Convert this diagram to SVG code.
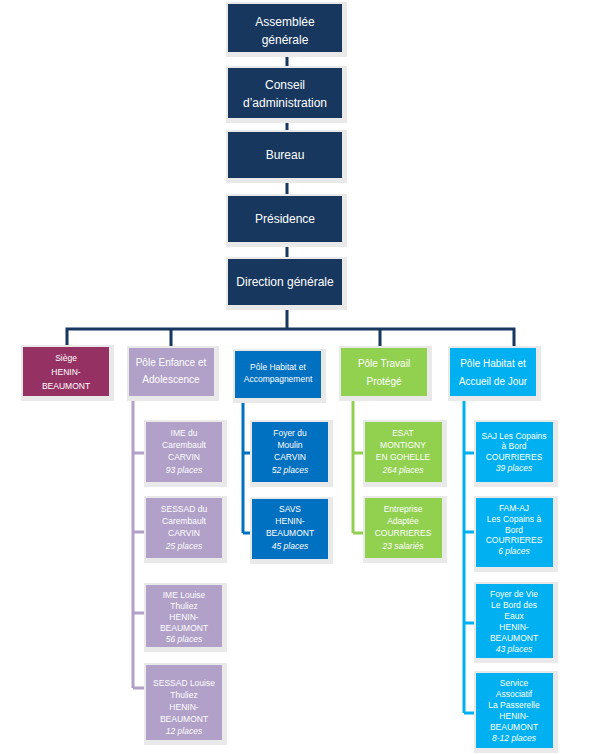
<svg xmlns="http://www.w3.org/2000/svg" width="593" height="754" viewBox="0 0 593 754">
<style>
.sh{fill:#e9e9e9}
.navy{fill:#17375e}
.siege{fill:#953163}
.enf{fill:#b1a0c7}
.hab{fill:#0070c0}
.tra{fill:#92d050}
.acc{fill:#00b0f0}
text{font-family:"Liberation Sans","DejaVu Sans",sans-serif;fill:#fff;text-anchor:middle}
.t1{font-size:12px}
.t2{font-size:10px}
.t3{font-size:8.5px}
.t4{font-size:8.5px}
.it{font-style:italic}
.ln{fill:none;stroke-width:3}
</style>
<rect width="593" height="754" fill="#fff"/>
<g id="connectors">
<g class="ln" stroke="#17375e">
<path d="M287 52V68M287 118V132M287 178V196M287 242V259M287 305V329M67 347V329H514V348M171 329V348M380 329V348"/>
</g>
<path class="ln" stroke="#b1a0c7" d="M133 396V688M133 453H146M133 532H146M133 613H146M133 688H146"/>
<path class="ln" stroke="#0070c0" d="M243 398V533M243 453H252M243 533H252"/>
<path class="ln" stroke="#92d050" d="M353 396V533M353 453H365M353 533H365"/>
<path class="ln" stroke="#00b0f0" d="M464 396V713M464 453H476M464 532H476M464 623H476M464 713H476"/>
</g>
<g id="assemblee"><rect class="sh" x="226" y="2" width="121" height="55"/><rect class="navy" x="228" y="4" width="114" height="48"/><text class="t1" x="285" y="26">Assemblée</text><text class="t1" x="285" y="44">générale</text></g>
<g id="conseil"><rect class="sh" x="226" y="66" width="121" height="57"/><rect class="navy" x="228" y="68" width="114" height="50"/><text class="t1" x="285" y="89">Conseil</text><text class="t1" x="285" y="107">d’administration</text></g>
<g id="bureau"><rect class="sh" x="226" y="130" width="121" height="53"/><rect class="navy" x="228" y="132" width="114" height="46"/><text class="t1" x="285" y="159">Bureau</text></g>
<g id="presidence"><rect class="sh" x="226" y="194" width="121" height="53"/><rect class="navy" x="228" y="196" width="114" height="46"/><text class="t1" x="285" y="223">Présidence</text></g>
<g id="direction"><rect class="sh" x="226" y="257" width="121" height="53"/><rect class="navy" x="228" y="259" width="114" height="46"/><text class="t1" x="285" y="286">Direction générale</text></g>

<g id="siege"><rect class="sh" x="21" y="345" width="93" height="56"/><rect class="siege" x="23" y="347" width="86" height="49"/><text class="t3" x="66" y="361">Siège</text><text class="t3" x="66" y="375">HENIN-</text><text class="t3" x="66" y="389">BEAUMONT</text></g>
<g id="pole-enfance"><rect class="sh" x="127" y="346" width="92" height="55"/><rect class="enf" x="129" y="348" width="85" height="48"/><text class="t2" x="171" y="366">Pôle Enfance et</text><text class="t2" x="171" y="383">Adolescence</text></g>
<g id="pole-habitat-acc"><rect class="sh" x="233" y="349" width="93" height="54"/><rect class="hab" x="235" y="351" width="86" height="47"/><text class="t4" x="278" y="370">Pôle Habitat et</text><text class="t4" x="278" y="382">Accompagnement</text></g>
<g id="pole-travail"><rect class="sh" x="339" y="346" width="93" height="55"/><rect class="tra" x="341" y="348" width="86" height="48"/><text class="t2" x="384" y="367">Pôle Travail</text><text class="t2" x="384" y="385">Protégé</text></g>
<g id="pole-accueil"><rect class="sh" x="448" y="346" width="93" height="55"/><rect class="acc" x="450" y="348" width="86" height="48"/><text class="t2" x="493" y="367">Pôle Habitat et</text><text class="t2" x="493" y="385">Accueil de Jour</text></g>

<g id="ime-carembault"><rect class="sh" x="144" y="420" width="83" height="67"/><rect class="enf" x="146" y="422" width="76" height="60"/><text class="t3" x="184" y="436">IME du</text><text class="t3" x="184" y="448">Carembault</text><text class="t3" x="184" y="460">CARVIN</text><text class="t3 it" x="184" y="473">93 places</text></g>
<g id="sessad-carembault"><rect class="sh" x="144" y="496" width="83" height="67"/><rect class="enf" x="146" y="498" width="76" height="60"/><text class="t3" x="184" y="512">SESSAD du</text><text class="t3" x="184" y="524">Carembault</text><text class="t3" x="184" y="536">CARVIN</text><text class="t3 it" x="184" y="549">25 places</text></g>
<g id="ime-louise"><rect class="sh" x="144" y="583" width="83" height="69"/><rect class="enf" x="146" y="585" width="76" height="62"/><text class="t3" x="184" y="598">IME Louise</text><text class="t3" x="184" y="609">Thuliez</text><text class="t3" x="184" y="620">HENIN-</text><text class="t3" x="184" y="631">BEAUMONT</text><text class="t3 it" x="184" y="642">56 places</text></g>
<g id="sessad-louise"><rect class="sh" x="144" y="663" width="83" height="82"/><rect class="enf" x="146" y="665" width="76" height="75"/><text class="t3" x="184" y="686">SESSAD Louise</text><text class="t3" x="184" y="698">Thuliez</text><text class="t3" x="184" y="710">HENIN-</text><text class="t3" x="184" y="722">BEAUMONT</text><text class="t3 it" x="184" y="734">12 places</text></g>

<g id="foyer-moulin"><rect class="sh" x="250" y="420" width="83" height="67"/><rect class="hab" x="252" y="422" width="76" height="60"/><text class="t3" x="290" y="436">Foyer du</text><text class="t3" x="290" y="448">Moulin</text><text class="t3" x="290" y="460">CARVIN</text><text class="t3 it" x="290" y="473">52 places</text></g>
<g id="savs"><rect class="sh" x="250" y="497" width="83" height="67"/><rect class="hab" x="252" y="499" width="76" height="60"/><text class="t3" x="290" y="512">SAVS</text><text class="t3" x="290" y="524">HENIN-</text><text class="t3" x="290" y="536">BEAUMONT</text><text class="t3 it" x="290" y="549">45 places</text></g>

<g id="esat"><rect class="sh" x="363" y="420" width="84" height="67"/><rect class="tra" x="365" y="422" width="77" height="60"/><text class="t3" x="403" y="436">ESAT</text><text class="t3" x="403" y="448">MONTIGNY</text><text class="t3" x="403" y="460">EN GOHELLE</text><text class="t3 it" x="403" y="473">264 places</text></g>
<g id="entreprise"><rect class="sh" x="363" y="496" width="84" height="67"/><rect class="tra" x="365" y="498" width="77" height="60"/><text class="t3" x="403" y="512">Entreprise</text><text class="t3" x="403" y="524">Adaptée</text><text class="t3" x="403" y="536">COURRIERES</text><text class="t3 it" x="403" y="549">23 salariés</text></g>

<g id="saj"><rect class="sh" x="474" y="420" width="84" height="67"/><rect class="acc" x="476" y="422" width="77" height="60"/><text class="t3" x="514" y="439">SAJ Les Copains</text><text class="t3" x="514" y="449">à Bord</text><text class="t3" x="514" y="460">COURRIERES</text><text class="t3 it" x="514" y="471">39 places</text></g>
<g id="fam-ai"><rect class="sh" x="474" y="496" width="84" height="76"/><rect class="acc" x="476" y="498" width="77" height="69"/><text class="t3" x="514" y="511">FAM-AJ</text><text class="t3" x="514" y="522">Les Copains à</text><text class="t3" x="514" y="533">Bord</text><text class="t3" x="514" y="543">COURRIERES</text><text class="t3 it" x="514" y="554">6 places</text></g>
<g id="foyer-vie"><rect class="sh" x="474" y="582" width="84" height="81"/><rect class="acc" x="476" y="584" width="77" height="74"/><text class="t3" x="514" y="597">Foyer de Vie</text><text class="t3" x="514" y="608">Le Bord des</text><text class="t3" x="514" y="619">Eaux</text><text class="t3" x="514" y="630">HENIN-</text><text class="t3" x="514" y="641">BEAUMONT</text><text class="t3 it" x="514" y="652">43 places</text></g>
<g id="service"><rect class="sh" x="474" y="671" width="84" height="82"/><rect class="acc" x="476" y="673" width="77" height="75"/><text class="t3" x="514" y="686">Service</text><text class="t3" x="514" y="697">Associatif</text><text class="t3" x="514" y="708">La Passerelle</text><text class="t3" x="514" y="719">HENIN-</text><text class="t3" x="514" y="730">BEAUMONT</text><text class="t3 it" x="514" y="741">8-12 places</text></g>
</svg>
